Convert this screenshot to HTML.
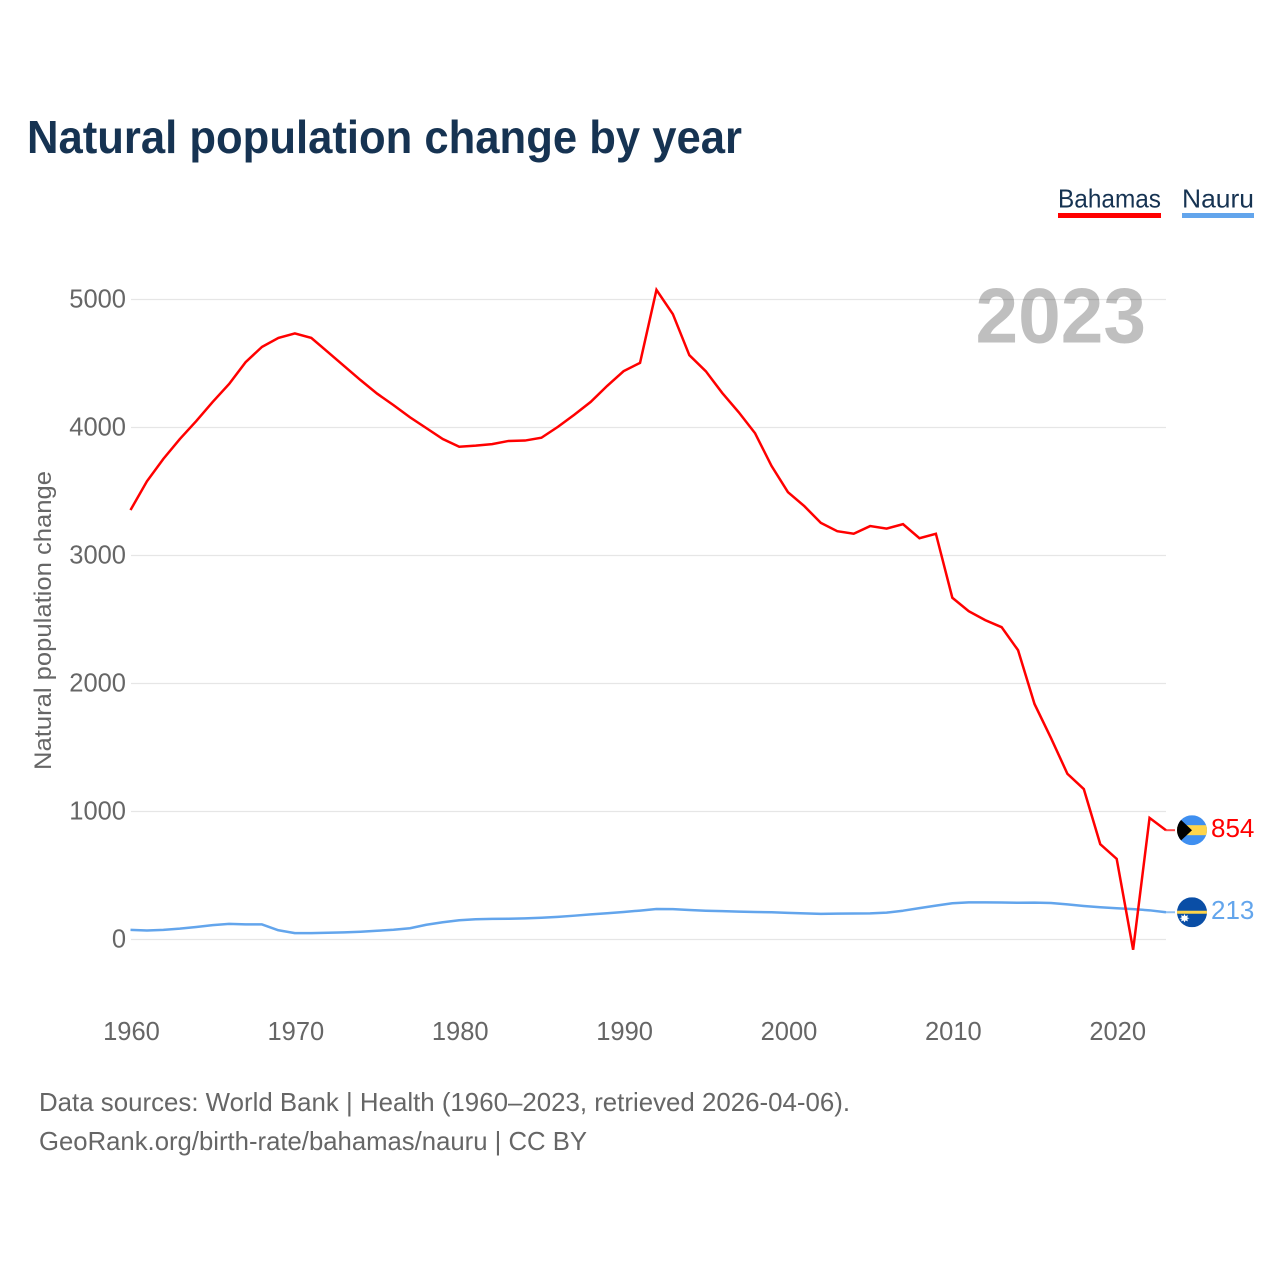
<!DOCTYPE html>
<html lang="en">
<head>
<meta charset="utf-8">
<title>Natural population change by year</title>
<style>
html,body{margin:0;padding:0;background:#fff;}
svg{display:block;}
text{font-family:"Liberation Sans",sans-serif;}
</style>
</head>
<body>
<svg id="chart" xmlns="http://www.w3.org/2000/svg" width="1280" height="1280" viewBox="0 0 1280 1280">
  <rect x="0" y="0" width="1280" height="1280" fill="#ffffff"/>
  <text x="27" y="153" font-size="46" font-weight="700" fill="#163352" textLength="715" lengthAdjust="spacingAndGlyphs">Natural population change by year</text>

  <g>
    <text x="1058" y="207.5" font-size="26" fill="#163352" textLength="103" lengthAdjust="spacingAndGlyphs">Bahamas</text>
    <rect x="1058" y="213" width="103" height="5" fill="#ff0000"/>
  </g>
  <g>
    <text x="1182" y="207.5" font-size="26" fill="#163352" textLength="72" lengthAdjust="spacingAndGlyphs">Nauru</text>
    <rect x="1182" y="213" width="72" height="5" fill="#63a5ec"/>
  </g>

  <g id="grid"></g>
  <g id="yticks"></g>
  <g id="xticks"></g>

  <text x="975.5" y="342.5" font-size="78" font-weight="700" fill="#000000" fill-opacity="0.25" textLength="170.5" lengthAdjust="spacingAndGlyphs">2023</text>

  <text transform="translate(51,770) rotate(-90)" x="0" y="0" font-size="24" fill="#666666" textLength="299" lengthAdjust="spacingAndGlyphs">Natural population change</text>

  <g id="series"></g>

  <g id="flag-bahamas">
    <defs>
      <clipPath id="flag-clip"><circle cx="0" cy="0" r="15"/></clipPath>
    </defs>
    <g clip-path="url(#flag-clip)">
      <rect x="-15" y="-15" width="30" height="30" fill="#3f8ff0"/>
      <rect x="-15" y="-5" width="30" height="10" fill="#ffd54a"/>
      <path d="M-16,-15 L0,0 L-16,15 Z" fill="#000000"/>
    </g>
  </g>
  <g id="flag-nauru">
    <g clip-path="url(#flag-clip)">
      <rect x="-15" y="-15" width="30" height="30" fill="#0a4ea6"/>
      <rect x="-15" y="-1.5" width="30" height="3" fill="#ffd54a"/>
      <path d="M-7.5,1.8 L-6.4,3.9 L-4.2,2.9 L-4.7,5.3 L-2.4,6 L-4.7,6.7 L-4.2,9.1 L-6.4,8.1 L-7.5,10.2 L-8.6,8.1 L-10.8,9.1 L-10.3,6.7 L-12.6,6 L-10.3,5.3 L-10.8,2.9 L-8.6,3.9 Z" fill="#ffffff"/>
    </g>
  </g>

  <text x="39" y="1111" font-size="26" fill="#666666" textLength="811" lengthAdjust="spacingAndGlyphs">Data sources: World Bank | Health (1960–2023, retrieved 2026-04-06).</text>
  <text x="39" y="1150" font-size="26" fill="#666666" textLength="548" lengthAdjust="spacingAndGlyphs">GeoRank.org/birth-rate/bahamas/nauru | CC BY</text>
</svg>
<script>
const firstYear = 1960;
const yTickValues = [0, 1000, 2000, 3000, 4000, 5000];
const xTickValues = [1960, 1970, 1980, 1990, 2000, 2010, 2020];
const bahamasValues = [3355,3580,3755,3910,4050,4200,4340,4510,4630,4700,4735,4700,4590,4480,4370,4265,4175,4080,3995,3910,3850,3858,3870,3895,3898,3920,4005,4100,4200,4325,4440,4505,5075,4885,4565,4440,4270,4120,3955,3700,3495,3385,3255,3190,3170,3230,3210,3245,3135,3170,2670,2565,2495,2440,2260,1840,1575,1295,1175,745,630,-80,950,854];
const nauruValues = [75,70,75,85,98,112,122,118,118,72,50,50,53,56,61,68,76,88,115,135,150,158,161,162,165,170,177,186,196,205,215,226,238,237,230,225,222,218,215,213,208,204,200,202,203,204,210,225,245,265,283,290,290,289,287,288,285,274,262,252,244,237,228,213];

const SVG_NS = 'http://www.w3.org/2000/svg';
function xScale(year) { return 130.5 + (year - 1960) * (1035.5 / 63); }
function yScale(value) { return 939.5 - value * 0.128; }
function pathFrom(values) {
  return values.map(function (v, i) {
    return (i ? 'L' : 'M') + xScale(firstYear + i).toFixed(2) + ',' + yScale(v).toFixed(2);
  }).join(' ');
}

const grid = document.getElementById('grid');
const yticks = document.getElementById('yticks');
const xticks = document.getElementById('xticks');
const series = document.getElementById('series');

yTickValues.forEach(function (v) {
  const line = document.createElementNS(SVG_NS, 'line');
  
  
  line.setAttribute('x1', 131);
  line.setAttribute('x2', 1166);
  line.setAttribute('y1', yScale(v));
  line.setAttribute('y2', yScale(v));
  line.setAttribute('stroke', '#e6e6e6');
  line.setAttribute('stroke-width', 1.3);
  grid.appendChild(line);

  const label = document.createElementNS(SVG_NS, 'text');
  
  
  label.setAttribute('x', 126);
  label.setAttribute('y', yScale(v) + 8);
  label.setAttribute('text-anchor', 'end');
  label.setAttribute('font-size', 25.5);
  label.setAttribute('fill', '#666666');
  label.textContent = String(v);
  yticks.appendChild(label);
});

xTickValues.forEach(function (year) {
  const label = document.createElementNS(SVG_NS, 'text');
  
  
  label.setAttribute('x', xScale(year) + 1);
  label.setAttribute('y', 1040);
  label.setAttribute('text-anchor', 'middle');
  label.setAttribute('font-size', 25.5);
  label.setAttribute('fill', '#666666');
  label.textContent = String(year);
  xticks.appendChild(label);
});

const nauruLine = document.createElementNS(SVG_NS, 'path');


nauruLine.setAttribute('d', pathFrom(nauruValues));
nauruLine.setAttribute('fill', 'none');
nauruLine.setAttribute('stroke', '#63a5ec');
nauruLine.setAttribute('stroke-width', 2.5);
nauruLine.setAttribute('stroke-linejoin', 'round');
series.appendChild(nauruLine);

const bahamasLine = document.createElementNS(SVG_NS, 'path');


bahamasLine.setAttribute('d', pathFrom(bahamasValues));
bahamasLine.setAttribute('fill', 'none');
bahamasLine.setAttribute('stroke', '#ff0000');
bahamasLine.setAttribute('stroke-width', 2.5);
bahamasLine.setAttribute('stroke-linejoin', 'miter');
series.appendChild(bahamasLine);

const lastBahamas = bahamasValues[bahamasValues.length - 1];
const lastNauru = nauruValues[nauruValues.length - 1];

const connectorBahamas = document.createElementNS(SVG_NS, 'line');


connectorBahamas.setAttribute('x1', 1166);
connectorBahamas.setAttribute('x2', 1175);
connectorBahamas.setAttribute('y1', yScale(lastBahamas));
connectorBahamas.setAttribute('y2', yScale(lastBahamas));
connectorBahamas.setAttribute('stroke', '#ff0000');
connectorBahamas.setAttribute('stroke-opacity', 0.7);
connectorBahamas.setAttribute('stroke-width', 2);
series.appendChild(connectorBahamas);

const connectorNauru = document.createElementNS(SVG_NS, 'line');


connectorNauru.setAttribute('x1', 1166);
connectorNauru.setAttribute('x2', 1175);
connectorNauru.setAttribute('y1', yScale(lastNauru));
connectorNauru.setAttribute('y2', yScale(lastNauru));
connectorNauru.setAttribute('stroke', '#63a5ec');
connectorNauru.setAttribute('stroke-opacity', 0.7);
connectorNauru.setAttribute('stroke-width', 2);
series.appendChild(connectorNauru);

document.getElementById('flag-bahamas').setAttribute('transform', 'translate(1192,' + yScale(lastBahamas) + ')');
document.getElementById('flag-nauru').setAttribute('transform', 'translate(1192,' + yScale(lastNauru) + ')');

const endBahamas = document.createElementNS(SVG_NS, 'text');


endBahamas.setAttribute('x', 1211);
endBahamas.setAttribute('y', yScale(lastBahamas) + 7);
endBahamas.setAttribute('font-size', 26);
endBahamas.setAttribute('fill', '#ff0000');
endBahamas.textContent = String(lastBahamas);
series.appendChild(endBahamas);

const endNauru = document.createElementNS(SVG_NS, 'text');


endNauru.setAttribute('x', 1211);
endNauru.setAttribute('y', yScale(lastNauru) + 7);
endNauru.setAttribute('font-size', 26);
endNauru.setAttribute('fill', '#63a5ec');
endNauru.textContent = String(lastNauru);
series.appendChild(endNauru);
</script>
</body>
</html>
